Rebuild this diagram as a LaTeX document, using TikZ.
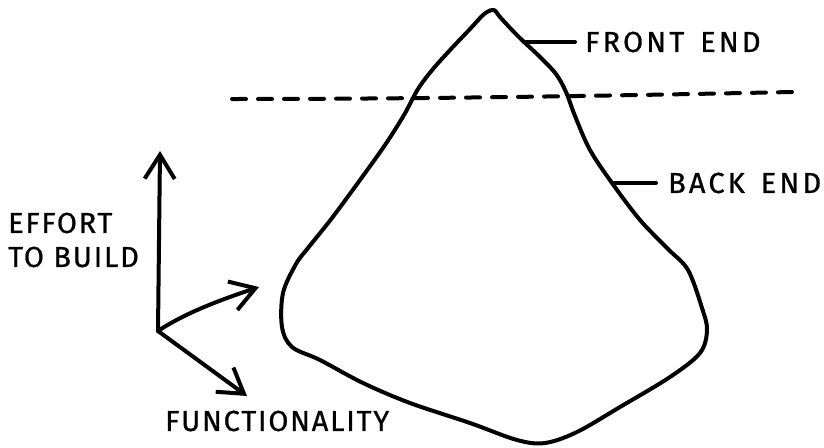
\documentclass[tikz,border=0pt]{standalone}
\usepackage{fontspec}
\setmainfont{Fira Sans}
\usetikzlibrary{arrows.meta}
\begin{document}
\begin{tikzpicture}[x=1pt,y=-1pt,
  ink/.style={line width=4pt,line cap=round,line join=round,black},
  lbl/.style={font=\fontsize{29}{30}\selectfont\addfontfeatures{LetterSpace=6,FakeBold=0.8},inner sep=0pt,text=black},
  widelbl/.style={lbl,font=\fontsize{29}{30}\selectfont\addfontfeatures{LetterSpace=11,FakeBold=0.8}},
  axarrow/.style={ink,-{Straight Barb[length=24pt,width=30pt,line width=4pt]}}]
\useasboundingbox[fill=white] (0,0) rectangle (824,447);
% iceberg
\draw[ink] plot[smooth cycle,tension=0.55] coordinates {
 (487,12) (494,10) (500,17) (512,30) (523,41) (540,57) (556,74) (566,92)
 (575,116) (590,150) (612,183) (640,220) (668,249) (688,270) (702,308)
 (707,330) (700,353) (670,377) (620,407) (577,432) (545,443) (517,440)
 (470,423) (410,403) (363,383) (320,360) (292,347) (282,327) (283,293)
 (296,264) (308,248) (332,218) (360,180) (385,145) (404,115) (418,89)
 (433,69) (451,49) (470,29) (481,17)};
% water line
\draw[ink,dash pattern=on 14pt off 12pt] (232,99) .. controls (420,99) and (600,96) .. (792,92);
% labels
\coordinate (fe) at (524,42);
\coordinate (be) at (612,183);
\node[widelbl,anchor=west] (front) at (585,42) {FRONT\hspace{5pt} END};
\node[widelbl,anchor=west] (back) at (668,183) {BACK\hspace{5pt} END};
\draw[ink] (fe) -- ([xshift=-10pt]front.west);
\draw[ink] (be) -- ([xshift=-12pt]back.west);
% axes
\coordinate (o) at (158,331);
\coordinate (up) at (160,151);
\coordinate (rt) at (259,287);
\coordinate (dn) at (247,396);
\draw[axarrow] (o) -- (up);
\draw[axarrow] (o) .. controls (185,313) and (220,300) .. (rt);
\draw[axarrow] (o) -- (dn);
\node[lbl,anchor=west,align=left] (effort) at (8,240) {EFFORT\\[4pt]TO BUILD};
\node[lbl,anchor=west] (func) at (165,421) {FUNCTIONALITY};
\end{tikzpicture}
\end{document}
